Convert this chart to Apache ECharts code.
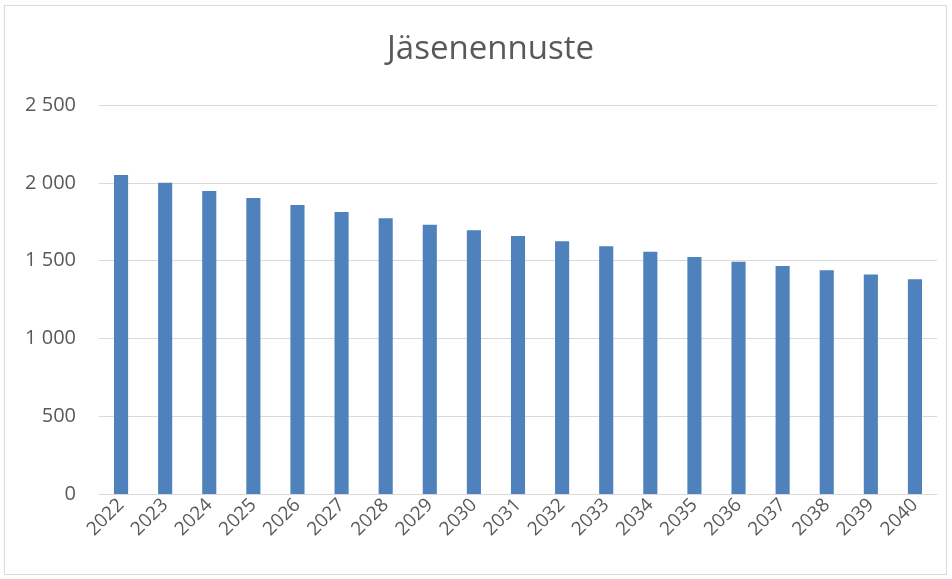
<!DOCTYPE html>
<html>
<head>
<meta charset="utf-8">
<script src="https://cdn.jsdelivr.net/npm/echarts@6/dist/echarts.min.js"></script>
<style>
html,body{margin:0;padding:0;background:#fff;}
#frame{position:absolute;left:4px;top:5px;width:943px;height:570px;border:1px solid #d9d9d9;box-sizing:border-box;}
#chart{position:absolute;left:0;top:0;width:952px;height:579px;}
</style>
</head>
<body>
<div id="frame"></div>
<div id="chart"></div>
<script>
var titleText = "Jäsenennuste";
var years = ["2022","2023","2024","2025","2026","2027","2028","2029","2030","2031",
	"2032","2033","2034","2035","2036","2037","2038","2039","2040"];
var members = [2050,2000,1947,1902,1858,1813,1772,1731,1695,1658,
	1624,1592,1557,1523,1493,1465,1438,1410,1380];
var yTicks = [0,500,1000,1500,2000,2500];

var myChart = echarts.init(document.getElementById("chart"));
function fmt(v){
	//tuhaterotin välilyönnillä
	return String(v).replace(/\B(?=(\d{3})+(?!\d))/g," ");
}
var option = {
	animation:false,
	title:{
		text:titleText,
		left:382,
		top:28,
		textStyle:{fontFamily:"Open Sans",fontWeight:"normal",fontSize:33,color:"#595959"}
	},
	grid:{
		left:99,
		right:15,
		top:105,
		bottom:85
	},
	xAxis:[{
		type:"category",
		data:years,
		axisLine:{lineStyle:{color:"#d9d9d9"}},
		axisTick:{show:false},
		axisLabel:{rotate:45,fontFamily:"Open Sans",fontSize:19,color:"#595959",margin:8}
	}],
	yAxis:[{
		type:"value",
		min:yTicks[0],
		max:yTicks[yTicks.length-1],
		interval:500,
		axisLine:{show:false},
		axisTick:{show:false},
		splitLine:{lineStyle:{color:"#d9d9d9",width:1}},
		axisLabel:{formatter:fmt,fontFamily:"Open Sans",fontSize:20,color:"#595959",margin:23}
	}],
	series:[{
		name:titleText,
		type:"bar",
		data:members,
		barWidth:"32%",
		itemStyle:{color:"#4f81bd"}
	}]
};
myChart.setOption(option);
</script>
</body>
</html>
